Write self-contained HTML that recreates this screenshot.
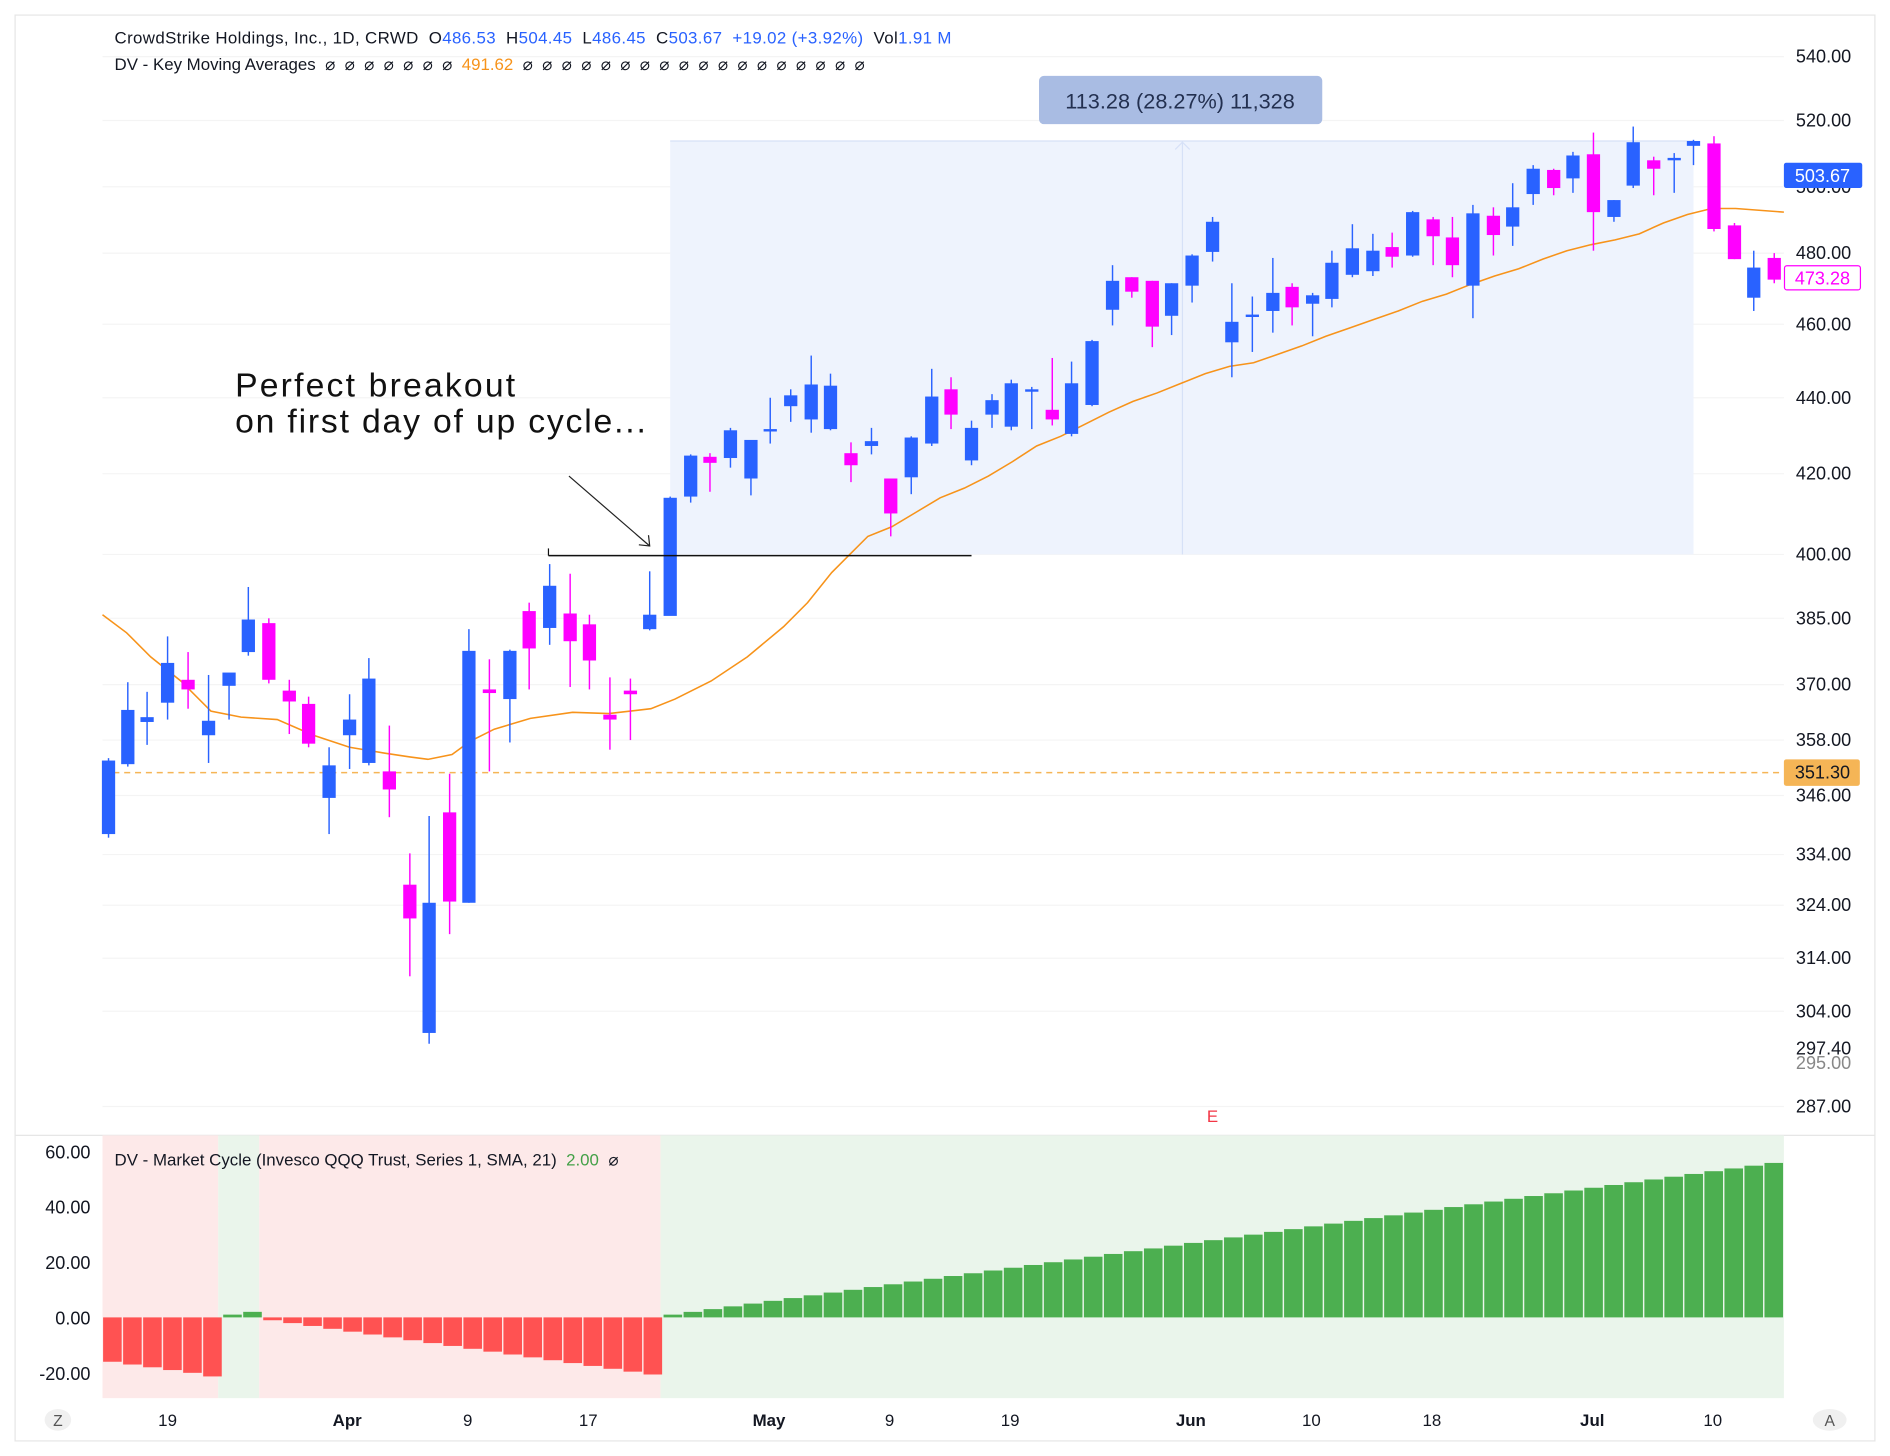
<!DOCTYPE html>
<html><head><meta charset="utf-8"><style>
html,body{margin:0;padding:0;background:#fff;width:1890px;height:1456px;overflow:hidden}
svg{display:block}
text{font-family:"Liberation Sans",sans-serif}
</style></head><body>
<svg id="s" width="1890" height="1456" viewBox="0 0 1568 1208" xmlns="http://www.w3.org/2000/svg">
<rect x="0" y="0" width="1568" height="1208" fill="#fff"/>
<rect x="12.5" y="12.5" width="1543" height="1183" fill="none" stroke="#e6e6e6"/>
<line x1="12" y1="942" x2="1556" y2="942" stroke="#e6e6e6"/>
<g id="grid" stroke="#f4f4f4"></g>
<rect x="556" y="117" width="849" height="343" fill="#eef3fd"/>
<line x1="556" y1="117" x2="1405" y2="117" stroke="#d6e1f7"/>
<line x1="981" y1="117" x2="981" y2="460" stroke="#d6e1f7"/>
<polyline points="975,124 981,118 987,124" fill="none" stroke="#d6e1f7"/>
<line x1="85" y1="641" x2="1480" y2="641" stroke="#f5b556" stroke-dasharray="5,4" stroke-width="1.2"/>
<g id="ma"></g>
<g id="candles"></g>
<line x1="455" y1="461" x2="806" y2="461" stroke="#111" stroke-width="1.2"/>
<line x1="455" y1="461" x2="455" y2="455" stroke="#111" stroke-width="1"/>
<line x1="472" y1="395" x2="539" y2="453" stroke="#222" stroke-width="1"/>
<polyline points="530,452 539,453 538,444" fill="none" stroke="#222" stroke-width="1"/>
<text x="195" y="329" font-size="28" fill="#111" letter-spacing="1.8">Perfect breakout</text>
<text x="195" y="359" font-size="28" fill="#111" letter-spacing="1.5">on first day of up cycle...</text>
<rect x="862" y="63" width="235" height="40" rx="4" fill="#a9bce3"/>
<text x="979" y="90" font-size="18" fill="#233050" text-anchor="middle">113.28 (28.27%) 11,328</text>
<text x="95" y="36" font-size="14" fill="#131722" xml:space="preserve" letter-spacing="0.3">CrowdStrike Holdings, Inc., 1D, CRWD  O<tspan fill="#2962ff">486.53</tspan>  H<tspan fill="#2962ff">504.45</tspan>  L<tspan fill="#2962ff">486.45</tspan>  C<tspan fill="#2962ff">503.67</tspan>  <tspan fill="#2962ff">+19.02 (+3.92%)</tspan>  Vol<tspan fill="#2962ff">1.91 M</tspan></text>
<text x="95" y="58" font-size="14" fill="#131722" xml:space="preserve">DV - Key Moving Averages  ⌀  ⌀  ⌀  ⌀  ⌀  ⌀  ⌀  <tspan fill="#f7931a">491.62</tspan>  ⌀  ⌀  ⌀  ⌀  ⌀  ⌀  ⌀  ⌀  ⌀  ⌀  ⌀  ⌀  ⌀  ⌀  ⌀  ⌀  ⌀  ⌀</text>
<g id="yax" font-size="15" fill="#131722"></g>
<rect x="1480" y="135" width="65" height="21" rx="2" fill="#2962ff"/>
<text x="1512" y="151" font-size="15" fill="#fff" text-anchor="middle">503.67</text>
<rect x="1480.5" y="220.5" width="63" height="20" rx="2" fill="#fff" stroke="#ff00ff"/>
<text x="1512" y="236" font-size="15" fill="#ff00ff" text-anchor="middle">473.28</text>
<rect x="1480" y="630" width="63" height="22" rx="2" fill="#f5b556"/>
<text x="1512" y="646" font-size="15" fill="#131722" text-anchor="middle">351.30</text>
<text x="1006" y="931" font-size="14" fill="#f23645" text-anchor="middle">E</text>
<g id="ind"></g>
<text x="95" y="967" font-size="14" fill="#131722" xml:space="preserve">DV - Market Cycle (Invesco QQQ Trust, Series 1, SMA, 21)  <tspan fill="#43a047">2.00</tspan>  ⌀</text>
<g font-size="15" fill="#131722" text-anchor="end">
<text x="75" y="961">60.00</text><text x="75" y="1007">40.00</text><text x="75" y="1053">20.00</text><text x="75" y="1099">0.00</text><text x="75" y="1145">-20.00</text>
</g>
<g font-size="14" fill="#131722" text-anchor="middle">
<text x="139" y="1183">19</text><text x="288" y="1183" font-weight="bold">Apr</text><text x="388" y="1183">9</text><text x="488" y="1183">17</text><text x="638" y="1183" font-weight="bold">May</text><text x="738" y="1183">9</text><text x="838" y="1183">19</text><text x="988" y="1183" font-weight="bold">Jun</text><text x="1088" y="1183">10</text><text x="1188" y="1183">18</text><text x="1321" y="1183" font-weight="bold">Jul</text><text x="1421" y="1183">10</text>
</g>
<ellipse cx="48" cy="1178" rx="11" ry="9" fill="#f0f0f0"/><text x="48" y="1183" font-size="13" fill="#555" text-anchor="middle">Z</text>
<ellipse cx="1518" cy="1178" rx="14" ry="9" fill="#f0f0f0"/><text x="1518" y="1183" font-size="13" fill="#555" text-anchor="middle">A</text>
</svg>
<script>
var NS="http://www.w3.org/2000/svg";
function el(p,t,a){var e=document.createElementNS(NS,t);for(var k in a)e.setAttribute(k,a[k]);p.appendChild(e);return e;}
var yl=[[540,47],[520,100],[500,155],[480,210],[460,269],[440,330],[420,393],[400,460],[385,513],[370,568],[358,614],[346,660],[334,709],[324,751],[314,795],[304,839],[295,882],[297.4,870],[287,918]];
var yax=document.getElementById('yax'),grid=document.getElementById('grid');
yl.forEach(function(v){var t=el(yax,'text',{x:1490,y:v[1]+5});t.textContent=v[0].toFixed(2);
 if(v[0]==295){t.setAttribute('fill','#888');}
 if(v[0]!=297.4&&v[0]!=295)el(grid,'line',{x1:85,x2:1480,y1:v[1],y2:v[1]});});
[955,1001,1047,1093,1139].forEach(function(y){el(grid,'line',{x1:85,x2:1480,y1:y,y2:y});});
var C=[[90,629,695,631,692,'b'],[106,566,636,589,634,'b'],[122,574,618,595,599,'b'],[139,528,597,550,583,'b'],[156,541,588,564,572,'m'],[173,560,633,598,610,'b'],[190,562,597,558,569,'b'],[206,487,544,514,541,'b'],[223,513,567,517,564,'m'],[240,564,609,573,582,'m'],[256,578,620,584,617,'m'],[273,620,692,635,662,'b'],[290,576,638,597,610,'b'],[306,546,635,563,633,'b'],[323,602,678,640,655,'m'],[340,708,810,734,762,'m'],[356,677,866,749,857,'b'],[373,642,775,674,748,'m'],[389,522,749,540,749,'b'],[406,547,640,572,575,'m'],[423,539,616,540,580,'b'],[439,500,572,507,538,'m'],[456,468,535,486,521,'b'],[473,476,570,509,532,'m'],[489,510,572,518,548,'m'],[506,562,622,593,597,'m'],[523,563,614,573,576,'m'],[539,474,523,510,522,'b'],[556,412,510,413,511,'b'],[573,377,417,378,412,'b'],[589,376,408,379,384,'m'],[606,355,388,357,380,'b'],[623,366,411,365,397,'b'],[639,330,368,356,358,'b'],[656,323,350,328,337,'b'],[673,295,359,319,348,'b'],[689,310,357,320,356,'b'],[706,367,400,376,386,'m'],[723,355,377,366,370,'b'],[739,397,445,397,426,'m'],[756,362,410,363,396,'b'],[773,306,370,329,368,'b'],[789,313,356,323,344,'m'],[806,349,386,355,382,'b'],[823,327,355,332,344,'b'],[839,315,357,318,354,'b'],[856,321,356,323,325,'b'],[873,297,353,340,348,'m'],[889,300,362,318,360,'b'],[906,282,337,283,336,'b'],[923,220,270,233,257,'b'],[939,230,247,230,242,'m'],[956,233,288,233,271,'m'],[972,235,278,235,262,'b'],[989,211,251,212,237,'b'],[1006,180,217,184,209,'b'],[1022,235,313,267,284,'b'],[1039,246,292,261,263,'b'],[1056,214,276,243,258,'b'],[1072,235,270,238,255,'m'],[1089,243,279,245,252,'b'],[1105,208,255,218,248,'b'],[1122,186,230,206,228,'b'],[1139,194,229,208,225,'b'],[1155,193,222,205,213,'m'],[1172,175,213,176,212,'b'],[1189,180,220,182,196,'m'],[1205,180,230,197,220,'m'],[1222,170,264,177,237,'b'],[1239,172,212,179,195,'m'],[1255,152,204,172,188,'b'],[1272,137,170,140,161,'b'],[1289,140,162,141,156,'m'],[1305,126,160,129,148,'b'],[1322,110,208,128,176,'m'],[1339,166,184,166,180,'b'],[1355,105,156,118,154,'b'],[1372,130,162,133,140,'m'],[1389,127,160,131,133,'b'],[1405,116,137,117,121,'b'],[1422,113,192,119,190,'m'],[1439,185,215,187,215,'m'],[1455,208,258,222,247,'b'],[1472,210,235,214,232,'m']];
var cg=document.getElementById('candles');
C.forEach(function(c){var col=c[5]=='b'?'#2962ff':'#ff00ff';
 el(cg,'line',{x1:c[0],x2:c[0],y1:c[1],y2:c[2],stroke:col,'stroke-width':1.2});
 el(cg,'rect',{x:c[0]-5.5,y:c[3],width:11,height:Math.max(2,c[4]-c[3]),fill:col});});
var ma="85,510 105,525 125,545 150,565 175,590 200,595 230,597 260,610 290,620 320,625 340,628 355,630 375,626 390,615 410,605 440,596 475,591 505,592 540,588 560,580 590,565 620,545 650,520 670,500 690,475 705,460 720,445 740,437 760,425 780,413 800,405 820,395 840,383 860,370 880,362 900,352 920,342 940,333 960,326 980,318 1000,310 1020,304 1040,301 1060,294 1080,287 1100,279 1120,272 1140,265 1160,258 1180,250 1200,244 1220,236 1240,229 1260,223 1280,215 1300,208 1320,203 1340,199 1360,194 1380,185 1400,178 1420,173 1440,173 1480,176";
el(document.getElementById('ma'),'polyline',{points:ma,fill:'none',stroke:'#f7931a','stroke-width':1.3});
var ind=document.getElementById('ind');
el(ind,'rect',{x:85,y:942,width:96,height:218,fill:'#fde9e9'});
el(ind,'rect',{x:181,y:942,width:34,height:218,fill:'#eaf5eb'});
el(ind,'rect',{x:215,y:942,width:333,height:218,fill:'#fde9e9'});
el(ind,'rect',{x:548,y:942,width:932,height:218,fill:'#eaf5eb'});
var vals=[-16,-17,-18,-19,-20,-21.3,1,2];
for(var i=1;i<=20;i++)vals.push(-i*1.03);
for(var i=1;i<=56;i++)vals.push(i*0.995);
var bw=(1480-85)/84;
vals.forEach(function(v,i){var x=85+i*bw;var y0=1093,y1=1093-v*2.3;
 el(ind,'rect',{x:x+0.5,y:Math.min(y0,y1),width:bw-1.2,height:Math.abs(y1-y0),fill:v<0?'#ff5252':'#4caf50'});});
</script>
</body></html>
